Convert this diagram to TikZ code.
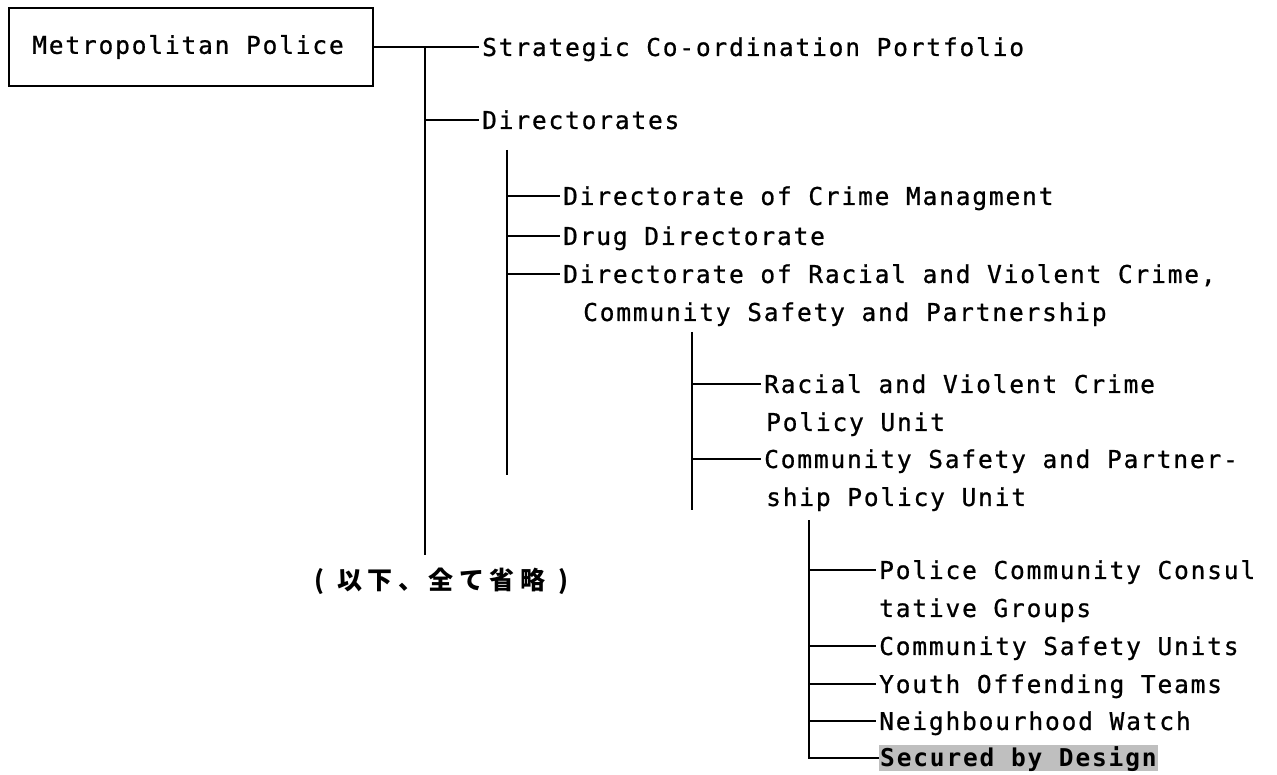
\documentclass[tikz,border=0pt]{standalone}
\usepackage{fontspec}
\setmonofont{DejaVu Sans Mono}[LetterSpace=7.5, UprightFeatures={FakeBold=0.8}]
\newfontfamily\jpfont{Noto Sans CJK JP}[LetterSpace=22]

\tikzset{
	item/.style={anchor=west, inner sep=0pt, text height=17.9pt, text depth=0pt,
		font=\ttfamily\fontsize{24.5}{27}\selectfont},
	rule/.style={line width=2.6pt},
	branch/.style={rule, shorten >=3pt},
}

\begin{document}
\begin{tikzpicture}[x=1pt,y=-1pt]
	\useasboundingbox (0,0) rectangle (1277,775);
	
	% top level
	\node[draw, line width=2.8pt, minimum width=364pt, minimum height=78pt, inner sep=0pt,
		font=\ttfamily\fontsize{24.5}{27}\selectfont] (metro) at (191,47) {\hspace*{-6pt}Metropolitan Police};
	\node[item] (strat) at (482,47) {Strategic Co-ordination Portfolio};
	\node[item] (dirs) at (482,120) {Directorates};
	\coordinate (t1top) at (425,47);
	\coordinate (t1end) at (425,555);
	\node[anchor=base west, inner sep=0pt, font=\jpfont\bfseries\fontsize{25}{27}\selectfont] (omit) at (314,589) {(\hspace{13pt}以下、全て省略\hspace{13pt})};
	
	\draw[branch] (metro.east) -- (strat.west);
	\draw[rule] (t1top) -- (t1end);
	\draw[branch] (t1top |- dirs.west) -- (dirs.west);
	
	% directorates
	\node[item] (crime) at (563,196) {Directorate of Crime Managment};
	\node[item] (drug) at (563,236) {Drug Directorate};
	\node[item] (racial) at (563,274) {Directorate of Racial and Violent Crime,};
	\node[item] (racialb) at (583,312) {Community Safety and Partnership};
	\coordinate (t2top) at (507,150);
	\coordinate (t2end) at (507,475);
	
	\draw[rule] (t2top) -- (t2end);
	\foreach \n in {crime,drug,racial}
		\draw[branch] (t2top |- \n.west) -- (\n.west);
	
	% policy units
	\node[item] (rvc) at (764,384) {Racial and Violent Crime};
	\node[item] (rvcb) at (766,422) {Policy Unit};
	\node[item] (csp) at (764,459) {Community Safety and Partner-};
	\node[item] (cspb) at (766,497) {ship Policy Unit};
	\coordinate (t3top) at (692,332);
	\coordinate (t3end) at (692,510);
	
	\draw[rule] (t3top) -- (t3end);
	\foreach \n in {rvc,csp}
		\draw[branch] (t3top |- \n.west) -- (\n.west);
	
	% local groups
	\node[item] (pcc) at (879,570) {Police Community Consul};
	\node[item] (pccb) at (879,608) {tative Groups};
	\node[item] (csu) at (879,646) {Community Safety Units};
	\node[item] (yot) at (879,684) {Youth Offending Teams};
	\node[item] (nw) at (879,721) {Neighbourhood Watch};
	\node[item, fill=black!25, text height=21.5pt, text depth=3.6pt, inner xsep=1pt] (sbd) at (879,758) {\bfseries Secured by Design};
	\coordinate (t4top) at (809,520);
	
	\draw[rule] (t4top) -- (t4top |- sbd.west) -- (sbd.west);
	\foreach \n in {pcc,csu,yot,nw}
		\draw[branch] (t4top |- \n.west) -- (\n.west);
\end{tikzpicture}
\end{document}
